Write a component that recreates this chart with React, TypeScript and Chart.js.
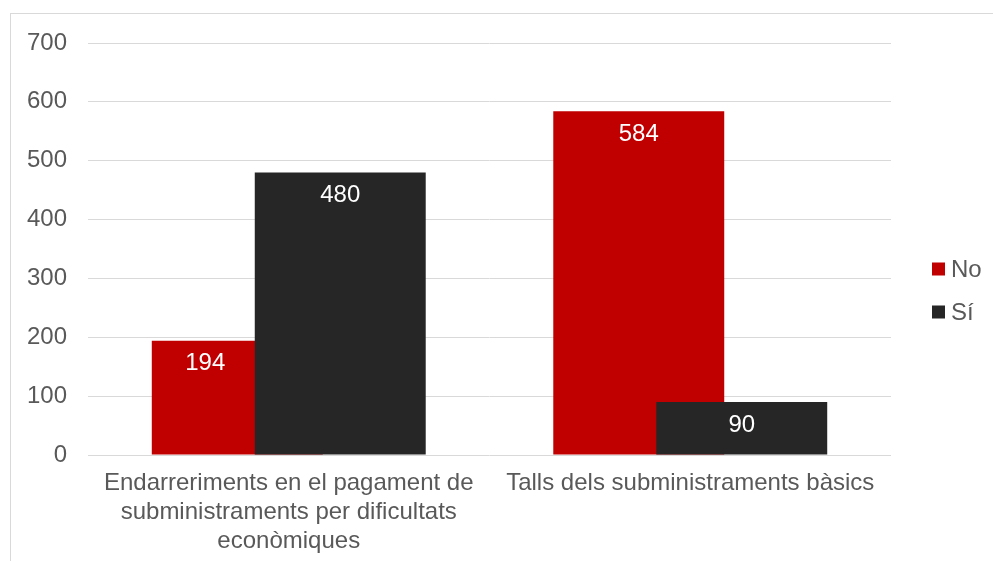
import React, { useEffect, useRef } from "react";
import { Chart, registerables } from "chart.js";

Chart.register(...registerables);

const categories: string[][] = [
  ["Endarreriments en el pagament de", "subministraments per dificultats", "econòmiques"],
  ["Talls dels subministraments bàsics"],
];
const seriesNames = ["No", "Sí"];
const valuesNo = [194, 584];
const valuesSi = [480, 90];
const seriesColors = ["#C00000", "#262626"];
const yTicks = { min: 0, max: 700, step: 100 };

const FONT = "'Liberation Sans', Arial, sans-serif";
const TEXT = "#595959";

const overlayPlugin = {
  id: "overlay",
  beforeDatasetDraw(_chart: any, args: any) {
    if (args.index === 1) return false;
  },
  afterDatasetsDraw(chart: any) {
    const ctx = chart.ctx;
    const m0 = chart.getDatasetMeta(0);
    const m1 = chart.getDatasetMeta(1);
    m1.controller.draw();
    ctx.save();
    ctx.font = `24px ${FONT}`;
    ctx.fillStyle = "#FFFFFF";
    ctx.textAlign = "center";
    ctx.textBaseline = "middle";
    const d0 = chart.data.datasets[0].data as number[];
    const d1 = chart.data.datasets[1].data as number[];
    m0.data.forEach((bar: any, i: number) => {
      let x = bar.x;
      const other = m1.data[i];
      if (d1[i] >= d0[i]) {
        const left = bar.x - bar.width / 2;
        const otherLeft = other.x - other.width / 2;
        x = (left + otherLeft) / 2 + 2;
      }
      ctx.fillText(String(d0[i]), x, bar.y + 23);
    });
    m1.data.forEach((bar: any, i: number) => {
      ctx.fillText(String(d1[i]), bar.x, bar.y + 23);
    });
    // legend
    const ca = chart.chartArea;
    const items = chart.data.datasets;
    const centerY = 290.5;
    const rowGap = 43;
    items.forEach((ds: any, i: number) => {
      const cy = centerY + (i - (items.length - 1) / 2) * rowGap;
      const bx = ca.right + 41;
      ctx.fillStyle = ds.backgroundColor;
      ctx.fillRect(bx, cy - 6.5, 13, 13);
      ctx.fillStyle = TEXT;
      ctx.textAlign = "left";
      ctx.fillText(ds.label, bx + 19, cy + 1);
    });
    ctx.restore();
  },
};

function ChartView() {
  const ref = useRef<HTMLCanvasElement | null>(null);
  useEffect(() => {
    if (!ref.current) return;
    const chart = new Chart(ref.current, {
      type: "bar",
      data: {
        labels: categories,
        datasets: [
          {
            label: seriesNames[0],
            data: valuesNo,
            backgroundColor: seriesColors[0],
            categoryPercentage: 0.513,
            barPercentage: 1.66,
          },
          {
            label: seriesNames[1],
            data: valuesSi,
            backgroundColor: seriesColors[1],
            categoryPercentage: 0.513,
            barPercentage: 1.66,
          },
        ] as any,
      },
      options: {
        animation: false,
        responsive: false,
        maintainAspectRatio: false,
        layout: { padding: { left: 0, right: 102, top: 43, bottom: 0 } },
        plugins: {
          legend: { display: false },
          tooltip: { enabled: false },
        },
        scales: {
          x: {
            grid: { display: false, drawTicks: false },
            border: { display: false },
            ticks: {
              color: TEXT,
              font: { family: FONT, size: 24, lineHeight: 1.2 },
              padding: 14,
              maxRotation: 0,
              autoSkip: false,
            },
            afterFit(scale: any) {
              scale.height = 106;
            },
          },
          y: {
            min: yTicks.min,
            max: yTicks.max,
            grid: { color: "#D9D9D9", lineWidth: 1, drawTicks: false },
            border: { display: false },
            ticks: {
              stepSize: yTicks.step,
              color: TEXT,
              font: { family: FONT, size: 24 },
              padding: 21,
            },
            afterFit(scale: any) {
              scale.width = 88;
            },
          },
        },
      } as any,
      plugins: [overlayPlugin],
    });
    return () => chart.destroy();
  }, []);
  return (
    <canvas
      ref={ref}
      width={993}
      height={561}
      style={{ position: "fixed", left: 0, top: 0, width: 993, height: 561 }}
    />
  );
}

export default function App() {
  return (
    <div>
      <div
        style={{
          position: "fixed",
          left: 10,
          top: 13,
          width: 1100,
          height: 700,
          border: "1px solid #D9D9D9",
          background: "#FFFFFF",
        }}
      />
      <ChartView />
    </div>
  );
}
